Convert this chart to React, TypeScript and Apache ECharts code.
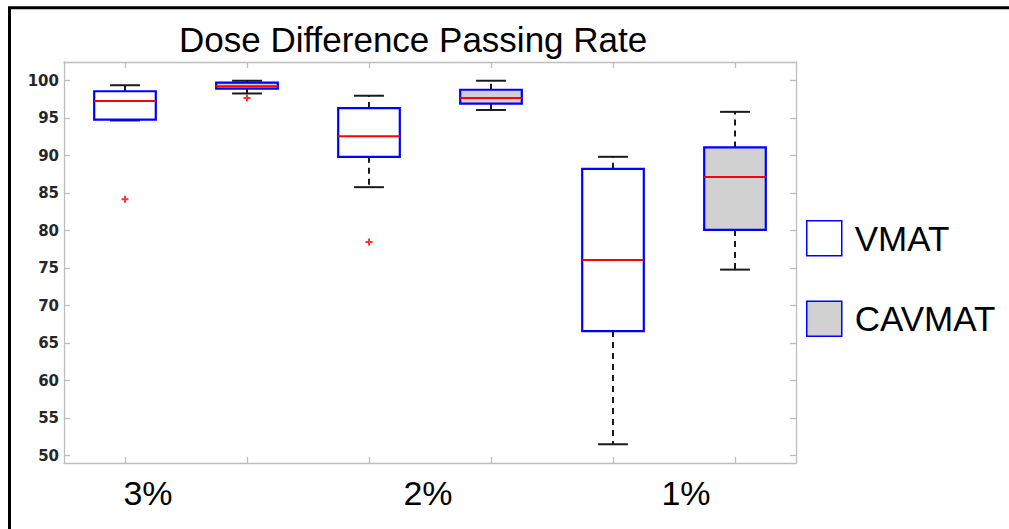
import React, { useEffect, useRef } from "react";
import * as echarts from "echarts";

// Passing-rate distributions per dose-difference criterion
const groups = ["3%", "2%", "1%"];
const methods = ["VMAT", "CAVMAT"];

const vmatLow = [94.7, 85.8, 51.5];
const vmatQ1 = [94.8, 89.85, 66.6];
const vmatMedian = [97.3, 92.6, 76.1];
const vmatQ3 = [98.6, 96.35, 88.25];
const vmatHigh = [99.4, 98.0, 89.85];

const cavmatLow = [98.3, 96.1, 74.8];
const cavmatQ1 = [98.95, 96.95, 80.1];
const cavmatMedian = [99.25, 97.7, 87.15];
const cavmatQ3 = [99.75, 98.8, 91.1];
const cavmatHigh = [100, 100, 95.85];

// [group index, value]
const vmatOutliers = [
  [0, 84.2],
  [1, 78.5],
];
const cavmatOutliers = [[0, 97.7]];

const yTicks = [50, 55, 60, 65, 70, 75, 80, 85, 90, 95, 100];

const BLUE = "#0000ff";
const RED = "#ff0000";
const WHISKER = "#1a1a1a";
const AXIS = "#bdbdbd";

const slots = groups.flatMap((g) => methods.map((m) => `${g} ${m}`));

function makeBoxRenderer(fill: string) {
  return (params: any, api: any) => {
    const x = api.value(0);
    const low = api.coord([x, api.value(1)]);
    const q1 = api.coord([x, api.value(2)]);
    const med = api.coord([x, api.value(3)]);
    const q3 = api.coord([x, api.value(4)]);
    const high = api.coord([x, api.value(5)]);
    const band = api.size([1, 0])[0];
    const bw = band * 0.505;
    const cw = band * 0.245;
    const cx = q1[0];
    const whiskerStyle = {
      stroke: WHISKER,
      lineWidth: 2,
      lineDash: [6, 5],
    };
    const capStyle = { stroke: WHISKER, lineWidth: 2 };
    return {
      type: "group",
      children: [
        {
          type: "line",
          shape: { x1: cx, y1: q3[1], x2: cx, y2: high[1] },
          style: whiskerStyle,
        },
        {
          type: "line",
          shape: { x1: cx, y1: q1[1], x2: cx, y2: low[1] },
          style: whiskerStyle,
        },
        {
          type: "line",
          shape: { x1: cx - cw / 2, y1: high[1], x2: cx + cw / 2, y2: high[1] },
          style: capStyle,
        },
        {
          type: "line",
          shape: { x1: cx - cw / 2, y1: low[1], x2: cx + cw / 2, y2: low[1] },
          style: capStyle,
        },
        {
          type: "rect",
          shape: {
            x: cx - bw / 2,
            y: q3[1],
            width: bw,
            height: q1[1] - q3[1],
          },
          style: { fill, stroke: BLUE, lineWidth: 2.2 },
        },
        {
          type: "line",
          shape: { x1: cx - bw / 2, y1: med[1], x2: cx + bw / 2, y2: med[1] },
          style: { stroke: RED, lineWidth: 2 },
        },
      ],
    };
  };
}

export default function App() {
  const ref = useRef<HTMLDivElement>(null);

  useEffect(() => {
    if (!ref.current) return;
    const chart = echarts.init(ref.current, null, { renderer: "svg" });

    const vmatData = groups.map((_, i) => [
      i * 2,
      vmatLow[i],
      vmatQ1[i],
      vmatMedian[i],
      vmatQ3[i],
      vmatHigh[i],
    ]);
    const cavmatData = groups.map((_, i) => [
      i * 2 + 1,
      cavmatLow[i],
      cavmatQ1[i],
      cavmatMedian[i],
      cavmatQ3[i],
      cavmatHigh[i],
    ]);
    const outlierData = [
      ...vmatOutliers.map(([g, v]) => [g * 2, v]),
      ...cavmatOutliers.map(([g, v]) => [g * 2 + 1, v]),
    ];

    const catAxisBase = {
      type: "category" as const,
      data: slots,
      boundaryGap: true,
      axisLine: { show: true, lineStyle: { color: AXIS, width: 1.3 } },
      axisTick: {
        show: true,
        inside: true,
        alignWithLabel: true,
        length: 6,
        lineStyle: { color: AXIS, width: 1.3 },
      },
      axisLabel: { show: false },
      splitLine: { show: false },
    };

    const valAxisBase = {
      type: "value" as const,
      min: 49,
      max: 102.5,
      axisLine: { show: true, lineStyle: { color: AXIS, width: 1.3 } },
      axisTick: {
        show: true,
        inside: true,
        length: 6,
        customValues: yTicks,
        lineStyle: { color: AXIS, width: 1.3 },
      },
      splitLine: { show: false },
    };

    chart.setOption({
      animation: false,
      backgroundColor: "#ffffff",
      title: {
        text: "Dose Difference Passing Rate",
        left: 179,
        top: 22,
        padding: 0,
        textStyle: {
          fontFamily: "Liberation Sans",
          fontSize: 35,
          fontWeight: "normal",
          color: "#000000",
        },
      },
      grid: { left: 64, top: 62, width: 732, height: 401, containLabel: false },
      xAxis: [
        { ...catAxisBase, position: "bottom" },
        { ...catAxisBase, position: "top" },
      ],
      yAxis: [
        {
          ...valAxisBase,
          position: "left",
          axisLabel: {
            show: true,
            customValues: yTicks,
            margin: 5,
            fontFamily: "DejaVu Sans",
            fontWeight: "bold",
            fontSize: 15,
            color: "#262626",
          },
        },
        {
          ...valAxisBase,
          position: "right",
          axisLabel: { show: false },
        },
      ],
      legend: {
        orient: "vertical",
        left: 806,
        top: 220,
        padding: 0,
        itemWidth: 35,
        itemHeight: 35,
        itemGap: 44,
        icon: "rect",
        selectedMode: false,
        textStyle: {
          fontFamily: "Liberation Sans",
          fontSize: 35,
          color: "#000000",
          padding: [0, 0, 0, 8],
        },
        data: [
          {
            name: "VMAT",
            itemStyle: { color: "#ffffff", borderColor: BLUE, borderWidth: 1.5 },
          },
          {
            name: "CAVMAT",
            itemStyle: { color: "#d1d1d1", borderColor: BLUE, borderWidth: 1.5 },
          },
        ],
      },
      graphic: [
        {
          type: "polyline",
          shape: {
            points: [
              [9.5, 529],
              [9.5, 7.7],
              [1009, 7.7],
            ],
          },
          style: { stroke: "#000000", lineWidth: 3, fill: null },
          silent: true,
        },
        ...groups.map((g, i) => ({
          type: "text",
          x: [148, 428, 686][i],
          y: 493,
          style: {
            text: g,
            fontFamily: "Liberation Sans",
            fontSize: 34,
            fill: "#000000",
            align: "center",
            verticalAlign: "middle",
          },
          silent: true,
        })),
      ],
      series: [
        {
          name: "VMAT",
          type: "custom",
          xAxisIndex: 0,
          yAxisIndex: 0,
          itemStyle: { color: "#ffffff", borderColor: BLUE },
          renderItem: makeBoxRenderer("#ffffff"),
          encode: { x: 0, y: [1, 2, 3, 4, 5] },
          data: vmatData,
          z: 2,
        },
        {
          name: "CAVMAT",
          type: "custom",
          xAxisIndex: 0,
          yAxisIndex: 0,
          itemStyle: { color: "#d1d1d1", borderColor: BLUE },
          renderItem: makeBoxRenderer("#d1d1d1"),
          encode: { x: 0, y: [1, 2, 3, 4, 5] },
          data: cavmatData,
          z: 2,
        },
        {
          name: "Outliers",
          type: "scatter",
          xAxisIndex: 0,
          yAxisIndex: 0,
          symbol: "path://M4,0 L4,8 M0,4 L8,4",
          symbolSize: 7,
          itemStyle: {
            color: "rgba(0,0,0,0)",
            borderColor: RED,
            borderWidth: 2,
          },
          data: outlierData,
          z: 3,
        },
      ],
    });

    return () => chart.dispose();
  }, []);

  return (
    <div
      ref={ref}
      style={{ position: "fixed", left: 0, top: 0, width: 1009, height: 529 }}
    />
  );
}
